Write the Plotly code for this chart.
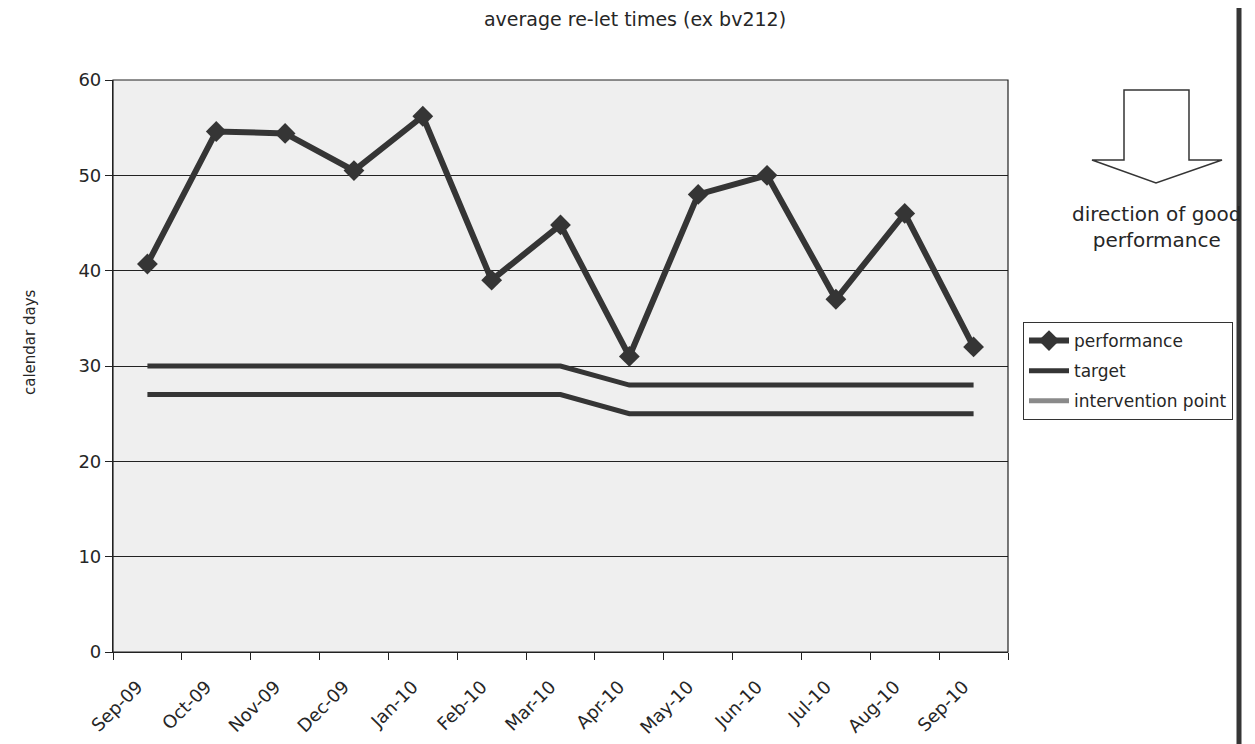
import plotly.graph_objects as go

months = ["Sep-09", "Oct-09", "Nov-09", "Dec-09", "Jan-10", "Feb-10", "Mar-10",
          "Apr-10", "May-10", "Jun-10", "Jul-10", "Aug-10", "Sep-10"]
performance = [40.7, 54.6, 54.4, 50.5, 56.2, 39.0, 44.8, 31.0, 48.0, 50.0, 37.0, 46.0, 32.0]
target = [30, 30, 30, 30, 30, 30, 30, 28, 28, 28, 28, 28, 28]
intervention = [27, 27, 27, 27, 27, 27, 27, 25, 25, 25, 25, 25, 25]
y_ticks = [0, 10, 20, 30, 40, 50, 60]

OFF = 8  # page body margin
W, H = 1255 - OFF, 744 - OFF
# plot area in screen pixels
L, R, T, B = 113, 1008, 80, 652


def px(x):
    return (x - L) / (R - L)


def py(y):
    return (B - y) / (B - T)


FONT = "'DejaVu Sans', sans-serif"
DARK = "#353535"
TXT = "#262626"

fig = go.Figure()
fig.add_trace(go.Scatter(x=months, y=performance, name="performance", mode="lines+markers",
                         line=dict(color=DARK, width=6), legendgroup="a",
                         marker=dict(symbol="diamond", size=16, color=DARK)))
fig.add_trace(go.Scatter(x=months, y=target, name="target", mode="lines",
                         legendgroup="b", line=dict(color=DARK, width=5)))
fig.add_trace(go.Scatter(x=months, y=intervention, name="intervention point", mode="lines",
                         legendgroup="c", line=dict(color=DARK, width=5), showlegend=False))
fig.add_trace(go.Scatter(x=[None], y=[None], name="intervention point", mode="lines",
                         legendgroup="c", line=dict(color="#8a8a8a", width=5)))

arrow = [(1124, 90), (1189, 90), (1189, 160), (1222, 160), (1156, 183),
         (1092, 160), (1124, 160)]
path = "M " + " L ".join(f"{px(x):.5f},{py(y):.5f}" for x, y in arrow) + " Z"

shapes = [
    dict(type="path", xref="paper", yref="paper", path=path,
         line=dict(color=DARK, width=1.5), fillcolor="white"),
    dict(type="line", xref="paper", yref="paper", x0=px(1239), x1=px(1239),
         y0=py(0), y1=py(760), line=dict(color=DARK, width=5)),
    dict(type="rect", xref="paper", yref="paper", x0=0, x1=1, y0=0, y1=1,
         line=dict(color="#222", width=1.2), layer="above"),
]

fig.update_layout(
    width=W, height=H,
    margin=dict(l=L - OFF, r=W - (R - OFF), t=T - OFF, b=H - (B - OFF)),
    paper_bgcolor="white", plot_bgcolor="#efefef",
    font=dict(family=FONT, color=TXT),
    title=dict(text="average re-let times (ex bv212)", x=(635 - OFF) / W, xanchor="center",
               y=1 - (19 - OFF) / H, yanchor="middle", font=dict(size=19, color=TXT)),
    showlegend=True,
    legend=dict(x=px(1023), y=py(322), xanchor="left", yanchor="top",
                bgcolor="white", bordercolor="#333", borderwidth=1,
                font=dict(size=17, color=TXT), itemwidth=40,
                traceorder="grouped", tracegroupgap=5),
    shapes=shapes,
    annotations=[
        dict(text="direction of good<br>performance", xref="paper", yref="paper",
             x=px(1157), y=py(227), xanchor="center", yanchor="middle",
             showarrow=False, font=dict(size=20, color=TXT)),
        dict(text="calendar days", xref="paper", yref="paper", textangle=-90,
             x=px(30), y=py(342), xanchor="center", yanchor="middle",
             showarrow=False, font=dict(size=15, color=TXT)),
    ],
)
fig.update_xaxes(type="category", range=[-0.5, 12.5], tickson="boundaries",
                 ticks="outside", ticklen=7, tickcolor="#222", tickangle=-45,
                 ticklabelstandoff=16, ticklabelshift=-10, automargin=False,
                 showgrid=False, showline=True, linecolor="#222", linewidth=1.2,
                 tickfont=dict(size=18, color=TXT), zeroline=False)
fig.update_yaxes(range=[0, 60], tickvals=y_ticks, ticks="outside", ticklen=7,
                 tickcolor="#222", showgrid=True, gridcolor="#222", gridwidth=1,
                 showline=True, linecolor="#222", linewidth=1.2, zeroline=False,
                 automargin=False, tickfont=dict(size=18, color=TXT))

fig.write_html("out.html")
